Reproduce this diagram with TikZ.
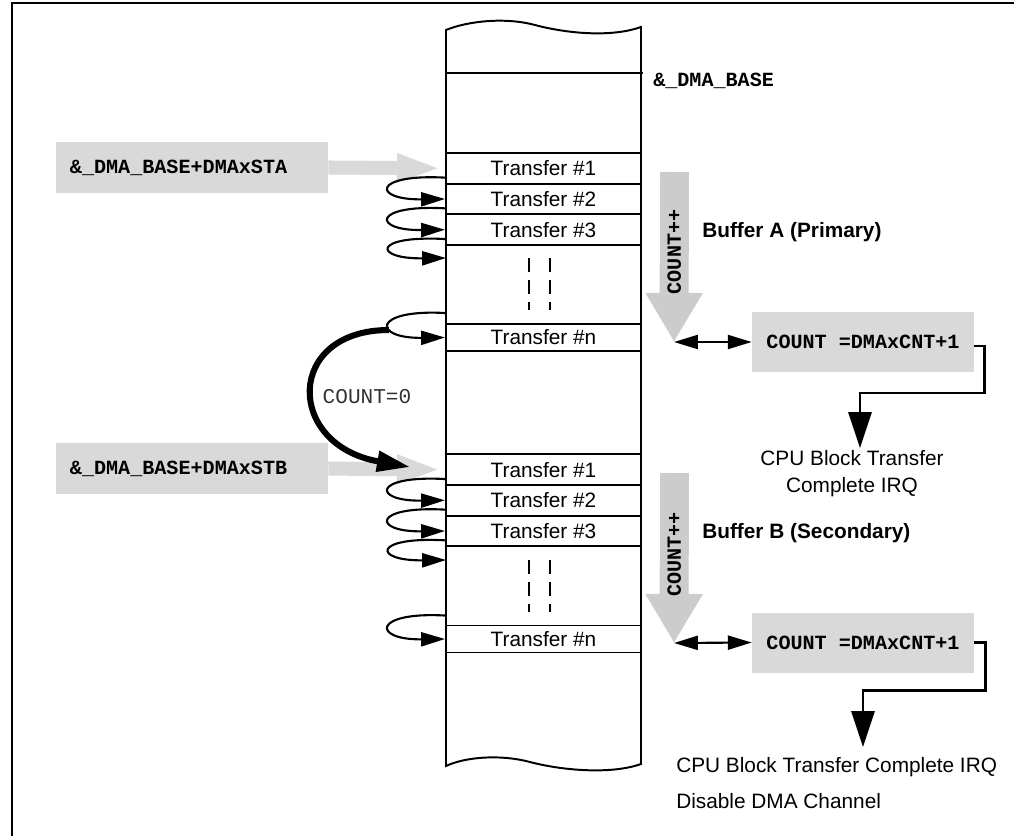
\documentclass[tikz,border=0pt]{standalone}
\usepackage{fontspec}
\setmainfont{Liberation Sans}
\setmonofont{Liberation Mono}
\usetikzlibrary{arrows.meta,calc}

\definecolor{boxgray}{RGB}{217,217,217}
\definecolor{arrowgray}{RGB}{204,204,204}

\newcommand{\FSANS}{\fontsize{14.8}{19.2}\selectfont}
\newcommand{\FMONO}{\fontsize{14.3}{17}\selectfont\ttfamily\bfseries}

\tikzset{
	cell/.style={
		draw,
		line width=1.4pt,
		inner sep=0pt,
		minimum width=4.875cm,
		minimum height=0.7675cm,
		font=\FSANS
	},
	last cell/.style={cell, minimum height=0.675cm},
	addr box/.style={
		fill=boxgray,
		inner xsep=0.35cm,
		text width=6.1cm,
		align=left,
		minimum height=1.275cm,
		font=\FMONO
	},
	count box/.style={
		fill=boxgray,
		minimum width=5.55cm,
		minimum height=1.5cm,
		font=\FMONO
	}
}

\begin{document}
\begin{tikzpicture}[
	x=0.025cm, y=-0.025cm,
	hop/.style={line width=1.5pt,-{Triangle[length=17pt,width=10pt]}},
	both/.style={line width=1.5pt,{Triangle[length=17pt,width=10pt]}-{Triangle[length=17pt,width=10pt]}},
	jump/.style={line width=4.3pt,-{Triangle[length=23.5pt,width=14.2pt]}},
	ptr/.style={draw=boxgray,line width=10pt,-{Triangle[length=31.3pt,width=18.5pt]},shorten >=2.8pt},
	inc/.style={draw=arrowgray,line width=20.6pt,-{Triangle[length=34.9pt,width=38.4pt]}},
	flow/.style={line width=2pt,-{Triangle[length=25.6pt,width=16.4pt]}},
	gap line/.style={line width=2pt,dash pattern=on 10pt off 5.7pt}
]
\useasboundingbox (0,0) rectangle (1014,836);

% frame
\draw[line width=2.1pt] (12,836) -- (12,3) -- (1014,3);

% memory column
\draw[line width=1.4pt] (446,30) .. controls (468,21) and (505,17) .. (535,25)
	.. controls (565,33) and (610,38) .. (641,27) -- (641,764)
	.. controls (610,775) and (560,770) .. (530,762)
	.. controls (500,754) and (465,757) .. (446,766) -- cycle;
\draw[line width=1.4pt] (446,73) -- (643,73);
\node[font=\FMONO, anchor=west, inner sep=0pt] (base) at (653,81) {\&\_DMA\_BASE};

\node[cell] (a1) at (543.5,168.3) {Transfer \#1};
\node[cell] (a2) at (543.5,199.0) {Transfer \#2};
\node[cell] (a3) at (543.5,229.7) {Transfer \#3};
\node[last cell] (an) at (543.5,337.5) {Transfer \#n};

\node[cell] (b1) at (543.5,469.7) {Transfer \#1};
\node[cell] (b2) at (543.5,500.3) {Transfer \#2};
\node[cell] (b3) at (543.5,531.0) {Transfer \#3};
\node[last cell] (bn) at (543.5,639.0) {Transfer \#n};

\foreach \x in {529,550} {
	\draw[gap line] (\x,258) -- (\x,310);
	\draw[gap line] (\x,560) -- (\x,612);
}

% start addresses
\node[addr box] (sta) at (192,167.5) {\&\_DMA\_BASE+DMAxSTA};
\node[addr box] (stb) at (192,468.5) {\&\_DMA\_BASE+DMAxSTB};
\draw[ptr] (sta.east) -- (a1.west);
\draw[ptr] (stb.east) -- (b1.west);

% next transfer
\coordinate (gapA) at (446,258);
\coordinate (gapB) at (446,560);
\draw[hop] ($(a1.south west)+(0,-7)$) .. controls +(-73,-4) and +(-73,1) .. (a2.west);
\draw[hop] ($(a2.south west)+(0,-7)$) .. controls +(-73,-4) and +(-73,1) .. (a3.west);
\draw[hop] ($(a3.south west)+(0,-7)$) .. controls +(-73,-4) and +(-73,1) .. (gapA);
\draw[hop] ($(an.north west)+(0,-10)$) .. controls +(-73,-4) and +(-73,1) .. (an.west);
\draw[hop] ($(b1.south west)+(0,-7)$) .. controls +(-73,-4) and +(-73,1) .. (b2.west);
\draw[hop] ($(b2.south west)+(0,-7)$) .. controls +(-73,-4) and +(-73,1) .. (b3.west);
\draw[hop] ($(b3.south west)+(0,-7)$) .. controls +(-73,-4) and +(-73,1) .. (gapB);
\draw[hop] ($(bn.north west)+(0,-9)$) .. controls +(-73,-4) and +(-73,1) .. (bn.west);

% buffer switch
\coordinate (jumpA) at (389,330);
\coordinate (jumpB) at (410,467);
\draw[jump] (jumpA) .. controls (285,330) and (285,445) .. (jumpB);
\node[font=\fontsize{15}{17}\selectfont\ttfamily, text=black!80] (zero) at (367,397) {COUNT=0};

% counters
\coordinate (incA) at (674.5,172);
\coordinate (fullA) at (674,342);
\coordinate (incB) at (674.5,473);
\coordinate (fullB) at (674,643);
\draw[inc] (incA) -- (fullA) node[pos=0.47, rotate=90, font=\FMONO] {COUNT++};
\draw[inc] (incB) -- (fullB) node[pos=0.48, rotate=90, font=\FMONO] {COUNT++};

\node[font=\FSANS\bfseries, anchor=west, inner sep=0pt] (bufA) at (702,232) {Buffer A (Primary)};
\node[font=\FSANS\bfseries, anchor=west, inner sep=0pt] (bufB) at (702,533) {Buffer B (Secondary)};

\node[count box] (cntA) at (863,342) {COUNT~=DMAxCNT+1};
\node[count box] (cntB) at (863,642.5) {COUNT~=DMAxCNT+1};
\draw[both] (fullA) -- (cntA.west);
\draw[both] (fullB) -- (cntB.west);

% interrupts
\node[font=\FSANS, align=center, anchor=north, inner sep=0pt] (irqA) at (852,450) {CPU Block Transfer\\Complete IRQ};
\node[font=\FSANS, align=left, anchor=north west, inner sep=0pt] (irqB) at (676,757) {CPU Block Transfer Complete IRQ\\[6.4pt]Disable DMA Channel};
\coordinate (doneA) at (860,448);
\coordinate (doneB) at (863,747);
\draw[flow] ($(cntA.east)+(0,4)$) -| ($(cntA.east)+(10,51)$) -| (doneA);
\draw[flow] (cntB.east) -| ($(cntB.east)+(11,48)$) -| (doneB);

\end{tikzpicture}
\end{document}
